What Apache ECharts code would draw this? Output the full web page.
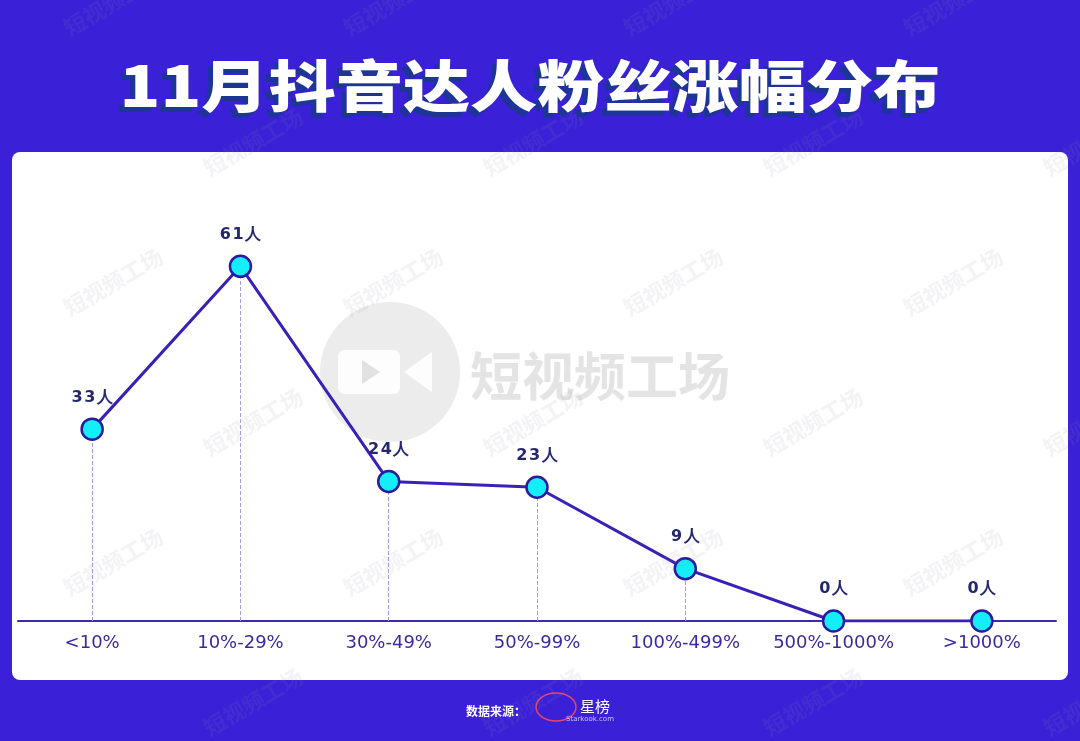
<!DOCTYPE html>
<html><head><meta charset="utf-8">
<script src="https://cdn.jsdelivr.net/npm/echarts@6/dist/echarts.min.js"></script>
<style>html,body{margin:0;padding:0;background:#3a20d6;}#c{width:1080px;height:741px;}</style>
</head><body><div id="c"></div>
<script>
const categories = ['<10%', '10%-29%', '30%-49%', '50%-99%', '100%-499%', '500%-1000%', '>1000%'];
const values = [33, 61, 24, 23, 9, 0, 0];
const unit = '人';
const titleText = '11月抖音达人粉丝涨幅分布';

const chart = echarts.init(document.getElementById('c'), null, {renderer: 'canvas'});

const wm = [];
for (let r = 0; r < 6; r++) {
  for (let c = 0; c < 5; c++) {
    const x = 60 + c * 280 + (r % 2) * 140;
    const y = 20 + r * 140;
    wm.push({
      type: 'text', x: x, y: y, rotation: Math.PI / 6, z: 50, silent: true,
      style: {text: '短视频工场', font: 'bold 22px "Noto Sans CJK SC"', fill: 'rgba(150,150,170,0.11)'}
    });
  }
}

const dropLines = values.map((v, i) => [{coord: [i, 0]}, {coord: [i, v]}]);
const spaced = s => String(s).split('').join('\u200a');

chart.setOption({
  backgroundColor: '#3a20d6',
  animation: false,
  grid: {left: 18, right: 24, top: 214, bottom: 120},
  xAxis: {
    type: 'category', data: categories, boundaryGap: true,
    axisLine: {lineStyle: {color: '#3a28b8', width: 2}},
    axisTick: {show: false},
    axisLabel: {interval: 0, color: '#3b2a9e', fontSize: 18, margin: 13, fontFamily: 'DejaVu Sans'}
  },
  yAxis: {type: 'value', min: 0, max: 70, show: false, splitLine: {show: false}},
  graphic: [
    {type: 'rect', shape: {x: 12, y: 152, width: 1056, height: 528, r: 8}, style: {fill: '#ffffff'}, z: -10, silent: true},
    {type: 'circle', shape: {cx: 390, cy: 372, r: 70}, style: {fill: 'rgba(200,200,200,0.35)'}, z: -5, silent: true},
    {type: 'rect', shape: {x: 338, y: 350, width: 62, height: 44, r: 6}, style: {fill: 'rgba(255,255,255,0.9)'}, z: -4, silent: true},
    {type: 'polygon', shape: {points: [[404, 372], [432, 352], [432, 392]]}, style: {fill: 'rgba(255,255,255,0.9)'}, z: -4, silent: true},
    {type: 'polygon', shape: {points: [[362, 360], [362, 384], [380, 372]]}, style: {fill: 'rgba(200,200,200,0.5)'}, z: -3, silent: true},
    {type: 'text', x: 470, y: 350, z: -4, silent: true,
      style: {text: '短视频工场', font: 'bold 52px "Noto Sans CJK SC"', fill: 'rgba(195,195,195,0.45)'}},
    {type: 'text', x: 525, y: 91, scaleX: 1.2, z: 99, silent: true,
      style: {text: titleText, font: '900 56px "Noto Sans CJK SC"', fill: '#1d3596',
        align: 'center', verticalAlign: 'middle'}},
    {type: 'text', x: 530, y: 86, scaleX: 1.2, z: 100, silent: true,
      style: {text: titleText, font: '900 56px "Noto Sans CJK SC"', fill: '#ffffff',
        align: 'center', verticalAlign: 'middle'}},
    {type: 'text', x: 466, y: 705, style: {text: '数据来源：', font: 'bold 12px "Noto Sans CJK SC"', fill: '#ffffff'}},
    {type: 'ellipse', shape: {cx: 556, cy: 707, rx: 20, ry: 14}, style: {fill: 'none', stroke: '#e8456a', lineWidth: 1.5}},
    {type: 'text', x: 580, y: 699, style: {text: '星榜', font: '15px "Noto Sans CJK SC"', fill: '#ffffff'}},
    {type: 'text', x: 566, y: 716, style: {text: 'Starkook.com', font: '7px "DejaVu Sans"', fill: 'rgba(255,255,255,0.7)'}}
  ].concat(wm),
  series: [{
    type: 'line', data: values, z: 5,
    lineStyle: {color: '#3a1fb8', width: 3},
    symbol: 'circle', symbolSize: 21,
    itemStyle: {color: '#14eef8', borderColor: '#2a1aa0', borderWidth: 2.5},
    label: {
      show: true, position: 'top', distance: 12,
      formatter: p => spaced(p.value) + '\u200a' + unit,
      color: '#25286e', fontSize: 16, fontWeight: 'bold', fontFamily: 'DejaVu Sans'
    },
    markLine: {
      silent: true, symbol: 'none', z: 1,
      lineStyle: {color: '#a59ce6', type: 'dashed', width: 1},
      label: {show: false},
      data: dropLines
    }
  }]
});
</script>
</body></html>
